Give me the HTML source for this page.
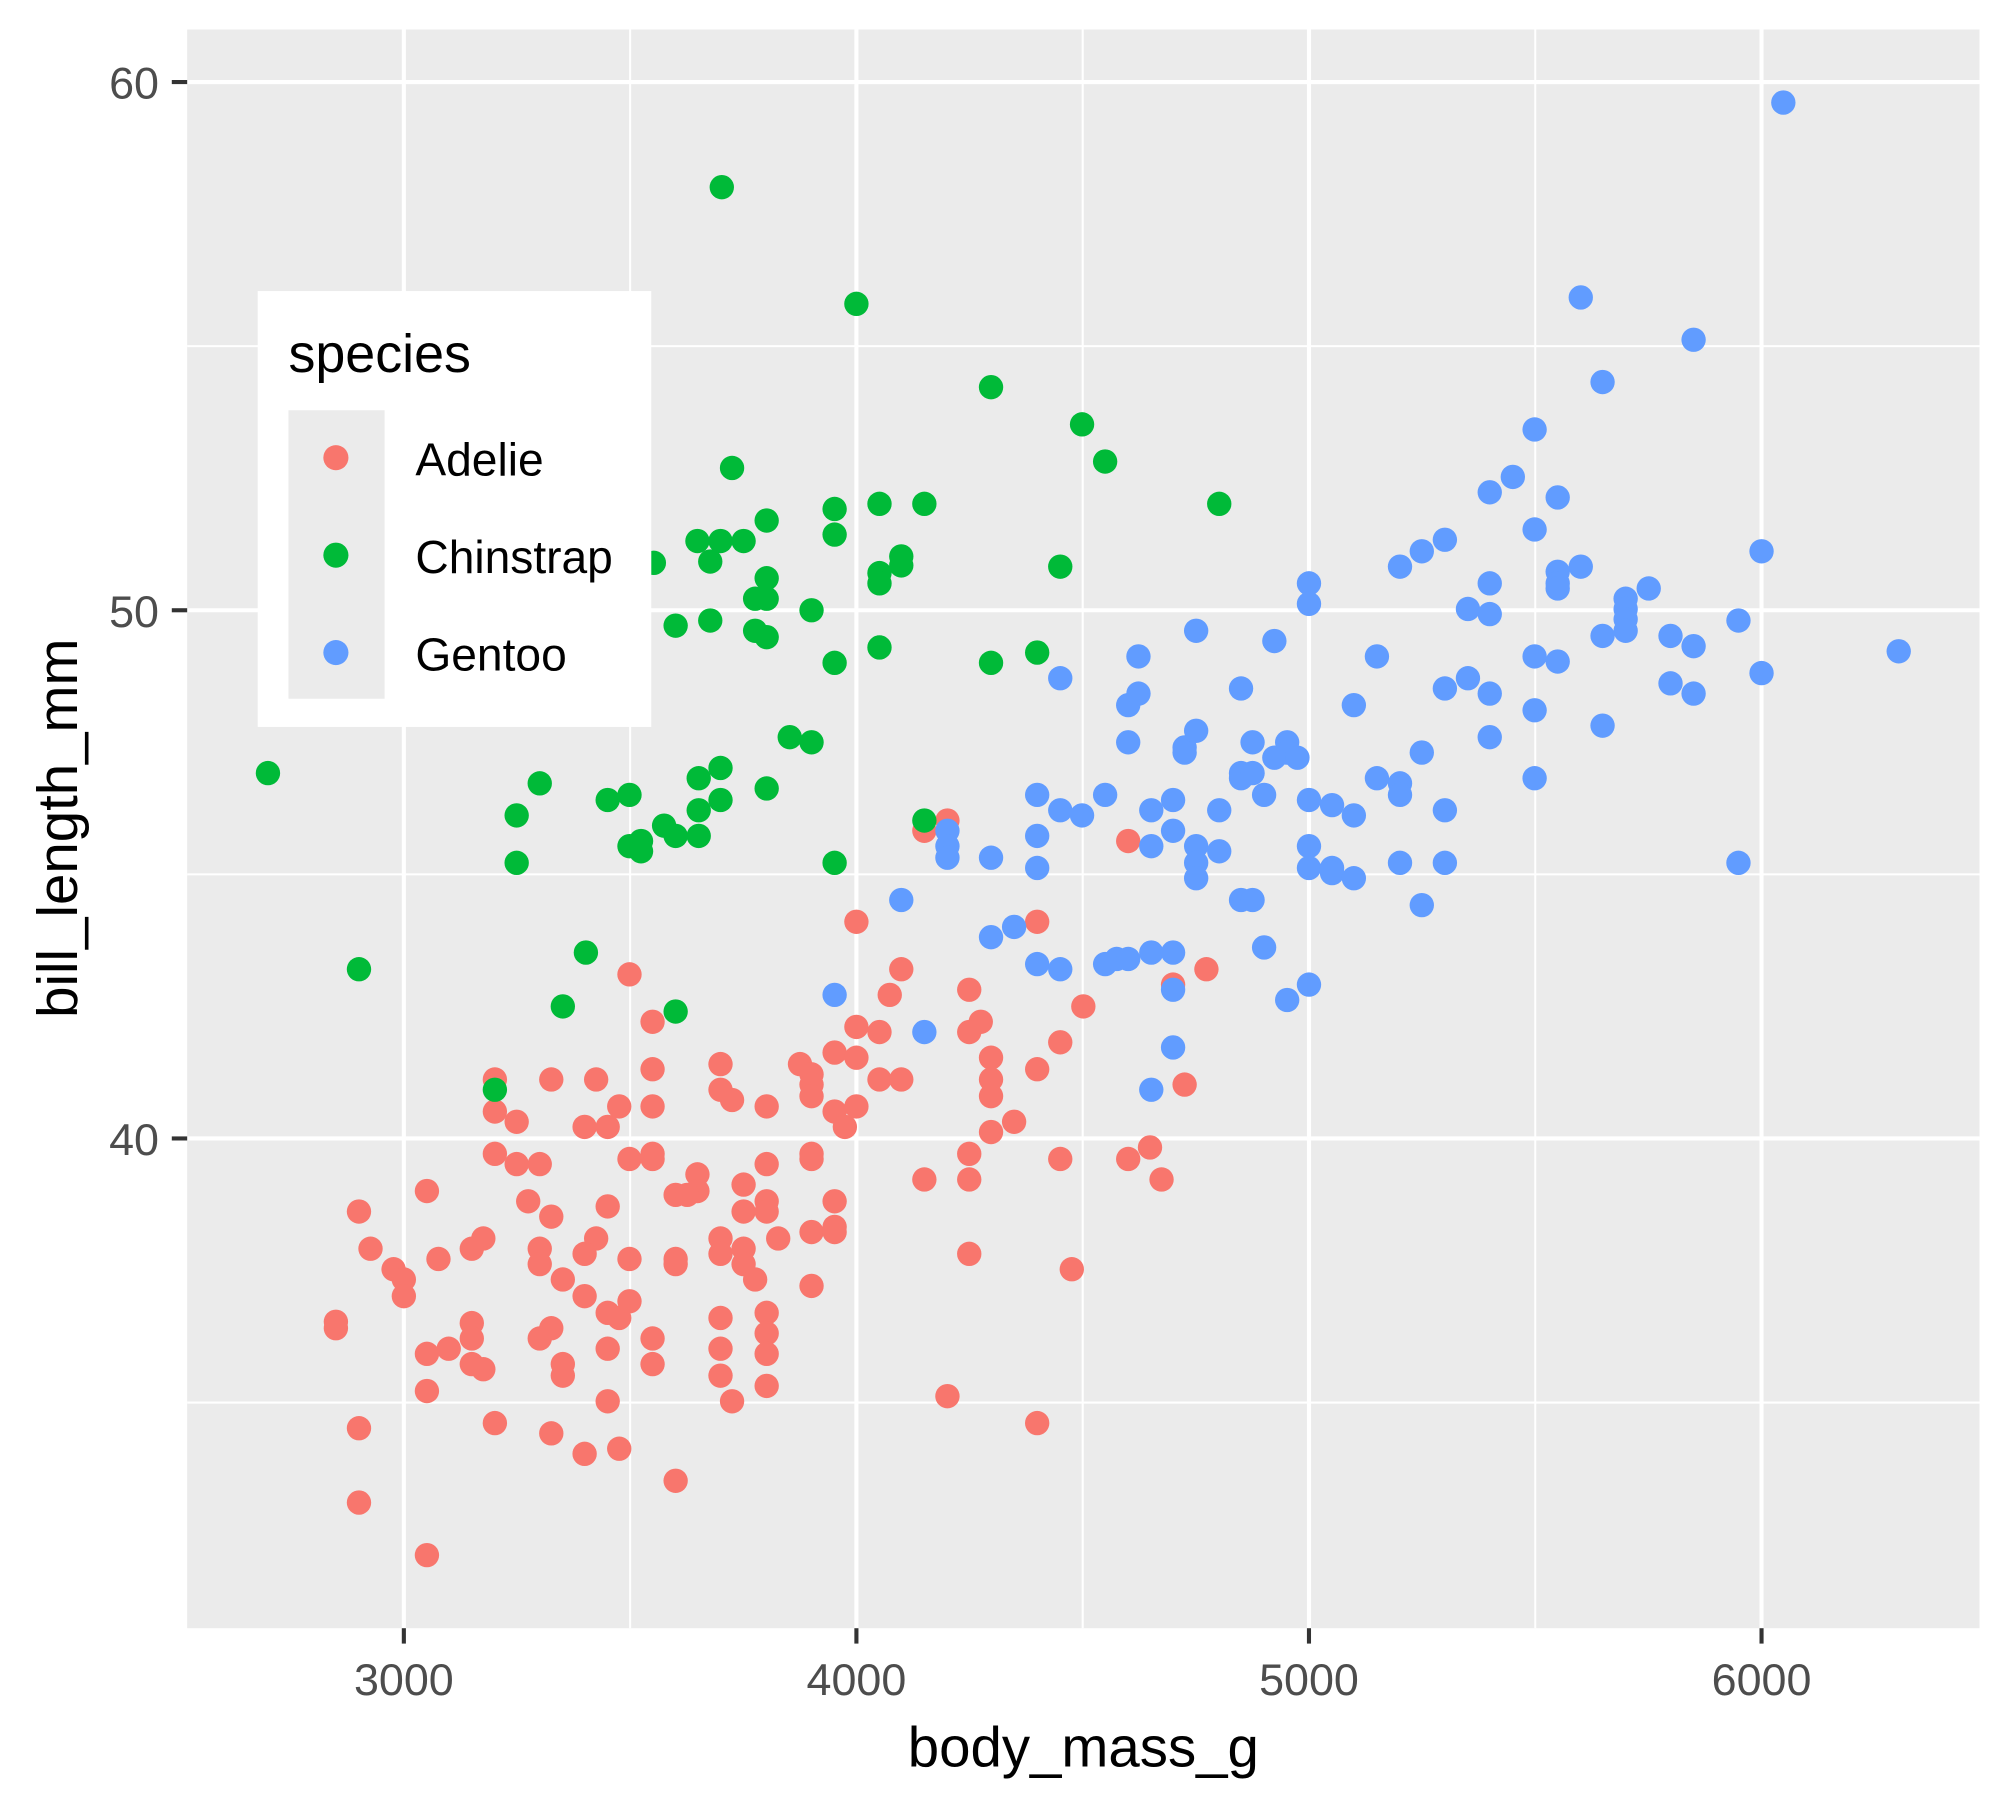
<!DOCTYPE html>
<html><head><meta charset="utf-8"><style>html,body{margin:0;padding:0;background:#fff}svg{display:block}</style></head><body>
<svg width="2000" height="1800" viewBox="0 0 1560 1404" xmlns="http://www.w3.org/2000/svg" font-family="Liberation Sans, sans-serif">
<rect x="0" y="0" width="1560" height="1404" fill="#fff"/>
<rect x="146" y="23" width="1398" height="1247" fill="#EBEBEB"/>
<g stroke="#fff" stroke-width="1.6">
<line x1="146" x2="1544" y1="270" y2="270"/><line x1="146" x2="1544" y1="682" y2="682"/><line x1="146" x2="1544" y1="1094" y2="1094"/>
<line y1="23" y2="1270" x1="491.5" x2="491.5"/><line y1="23" y2="1270" x1="844.5" x2="844.5"/><line y1="23" y2="1270" x1="1197.5" x2="1197.5"/>
</g>
<g stroke="#fff" stroke-width="3.2">
<line x1="146" x2="1544" y1="64" y2="64"/><line x1="146" x2="1544" y1="476" y2="476"/><line x1="146" x2="1544" y1="888" y2="888"/>
<line y1="23" y2="1270" x1="315" x2="315"/><line y1="23" y2="1270" x1="668" x2="668"/><line y1="23" y2="1270" x1="1021" x2="1021"/><line y1="23" y2="1270" x1="1374" x2="1374"/>
</g>
<g stroke="#333" stroke-width="3.2">
<line x1="134" x2="146" y1="64" y2="64"/><line x1="134" x2="146" y1="476" y2="476"/><line x1="134" x2="146" y1="888" y2="888"/>
<line y1="1270" y2="1282" x1="315" x2="315"/><line y1="1270" y2="1282" x1="668" x2="668"/><line y1="1270" y2="1282" x1="1021" x2="1021"/><line y1="1270" y2="1282" x1="1374" x2="1374"/>
</g>
<g fill="#4D4D4D" font-size="35">
<text x="124" y="77" text-anchor="end">60</text><text x="124" y="489" text-anchor="end">50</text><text x="124" y="901" text-anchor="end">40</text>
<text x="315" y="1322" text-anchor="middle">3000</text><text x="668" y="1322" text-anchor="middle">4000</text><text x="1021" y="1322" text-anchor="middle">5000</text><text x="1374" y="1322" text-anchor="middle">6000</text>
</g>
<text x="845" y="1378" text-anchor="middle" font-size="44" fill="#000">body_mass_g</text>
<text transform="translate(60,646) rotate(-90)" text-anchor="middle" font-size="44" fill="#000">bill_length_mm</text>
<g fill="#F8766D">
<circle cx="721" cy="648" r="9.5"/><circle cx="739" cy="640" r="9.5"/><circle cx="880" cy="656" r="9.5"/><circle cx="668" cy="719" r="9.5"/><circle cx="809" cy="719" r="9.5"/><circle cx="703" cy="756" r="9.5"/><circle cx="491" cy="760" r="9.5"/><circle cx="941" cy="756" r="9.5"/><circle cx="915" cy="768" r="9.5"/><circle cx="756" cy="772" r="9.5"/><circle cx="694" cy="776" r="9.5"/><circle cx="509" cy="797" r="9.5"/><circle cx="845" cy="785" r="9.5"/><circle cx="668" cy="801" r="9.5"/><circle cx="686" cy="805" r="9.5"/><circle cx="765" cy="797" r="9.5"/><circle cx="756" cy="805" r="9.5"/><circle cx="809" cy="834" r="9.5"/><circle cx="827" cy="813" r="9.5"/><circle cx="651" cy="821" r="9.5"/><circle cx="668" cy="825" r="9.5"/><circle cx="773" cy="825" r="9.5"/><circle cx="562" cy="830" r="9.5"/><circle cx="624" cy="830" r="9.5"/><circle cx="386" cy="842" r="9.5"/><circle cx="430" cy="842" r="9.5"/><circle cx="465" cy="842" r="9.5"/><circle cx="509" cy="834" r="9.5"/><circle cx="686" cy="842" r="9.5"/><circle cx="703" cy="842" r="9.5"/><circle cx="633" cy="838" r="9.5"/><circle cx="633" cy="846" r="9.5"/><circle cx="773" cy="842" r="9.5"/><circle cx="562" cy="850" r="9.5"/><circle cx="571" cy="858" r="9.5"/><circle cx="773" cy="855" r="9.5"/><circle cx="386" cy="867" r="9.5"/><circle cx="403" cy="875" r="9.5"/><circle cx="456" cy="879" r="9.5"/><circle cx="474" cy="879" r="9.5"/><circle cx="483" cy="863" r="9.5"/><circle cx="509" cy="863" r="9.5"/><circle cx="598" cy="863" r="9.5"/><circle cx="651" cy="867" r="9.5"/><circle cx="668" cy="863" r="9.5"/><circle cx="659" cy="879" r="9.5"/><circle cx="791" cy="875" r="9.5"/><circle cx="773" cy="883" r="9.5"/><circle cx="633" cy="855" r="9.5"/><circle cx="924" cy="846" r="9.5"/><circle cx="897" cy="895" r="9.5"/><circle cx="880" cy="904" r="9.5"/><circle cx="906" cy="920" r="9.5"/><circle cx="827" cy="904" r="9.5"/><circle cx="721" cy="920" r="9.5"/><circle cx="756" cy="920" r="9.5"/><circle cx="756" cy="900" r="9.5"/><circle cx="386" cy="900" r="9.5"/><circle cx="403" cy="908" r="9.5"/><circle cx="421" cy="908" r="9.5"/><circle cx="491" cy="904" r="9.5"/><circle cx="509" cy="904" r="9.5"/><circle cx="509" cy="900" r="9.5"/><circle cx="527" cy="932" r="9.5"/><circle cx="544" cy="916" r="9.5"/><circle cx="544" cy="929" r="9.5"/><circle cx="536" cy="932" r="9.5"/><circle cx="580" cy="924" r="9.5"/><circle cx="598" cy="908" r="9.5"/><circle cx="633" cy="900" r="9.5"/><circle cx="633" cy="904" r="9.5"/><circle cx="651" cy="937" r="9.5"/><circle cx="333" cy="929" r="9.5"/><circle cx="280" cy="945" r="9.5"/><circle cx="412" cy="937" r="9.5"/><circle cx="430" cy="949" r="9.5"/><circle cx="474" cy="941" r="9.5"/><circle cx="580" cy="945" r="9.5"/><circle cx="598" cy="937" r="9.5"/><circle cx="598" cy="945" r="9.5"/><circle cx="633" cy="961" r="9.5"/><circle cx="651" cy="961" r="9.5"/><circle cx="651" cy="957" r="9.5"/><circle cx="377" cy="966" r="9.5"/><circle cx="368" cy="974" r="9.5"/><circle cx="289" cy="974" r="9.5"/><circle cx="421" cy="974" r="9.5"/><circle cx="421" cy="986" r="9.5"/><circle cx="465" cy="966" r="9.5"/><circle cx="456" cy="978" r="9.5"/><circle cx="491" cy="982" r="9.5"/><circle cx="527" cy="982" r="9.5"/><circle cx="527" cy="986" r="9.5"/><circle cx="562" cy="966" r="9.5"/><circle cx="562" cy="978" r="9.5"/><circle cx="580" cy="974" r="9.5"/><circle cx="580" cy="986" r="9.5"/><circle cx="589" cy="998" r="9.5"/><circle cx="607" cy="966" r="9.5"/><circle cx="633" cy="1003" r="9.5"/><circle cx="307" cy="990" r="9.5"/><circle cx="315" cy="998" r="9.5"/><circle cx="342" cy="982" r="9.5"/><circle cx="315" cy="1011" r="9.5"/><circle cx="439" cy="998" r="9.5"/><circle cx="456" cy="1011" r="9.5"/><circle cx="474" cy="1024" r="9.5"/><circle cx="483" cy="1028" r="9.5"/><circle cx="491" cy="1015" r="9.5"/><circle cx="509" cy="1044" r="9.5"/><circle cx="509" cy="1064" r="9.5"/><circle cx="562" cy="1028" r="9.5"/><circle cx="598" cy="1024" r="9.5"/><circle cx="598" cy="1040" r="9.5"/><circle cx="562" cy="1052" r="9.5"/><circle cx="598" cy="1056" r="9.5"/><circle cx="430" cy="1036" r="9.5"/><circle cx="421" cy="1044" r="9.5"/><circle cx="368" cy="1032" r="9.5"/><circle cx="368" cy="1044" r="9.5"/><circle cx="262" cy="1031" r="9.5"/><circle cx="262" cy="1036" r="9.5"/><circle cx="333" cy="1056" r="9.5"/><circle cx="350" cy="1052" r="9.5"/><circle cx="368" cy="1064" r="9.5"/><circle cx="377" cy="1068" r="9.5"/><circle cx="439" cy="1064" r="9.5"/><circle cx="439" cy="1073" r="9.5"/><circle cx="474" cy="1052" r="9.5"/><circle cx="562" cy="1073" r="9.5"/><circle cx="598" cy="1081" r="9.5"/><circle cx="571" cy="1093" r="9.5"/><circle cx="333" cy="1085" r="9.5"/><circle cx="474" cy="1093" r="9.5"/><circle cx="386" cy="1110" r="9.5"/><circle cx="280" cy="1114" r="9.5"/><circle cx="430" cy="1118" r="9.5"/><circle cx="456" cy="1134" r="9.5"/><circle cx="483" cy="1130" r="9.5"/><circle cx="527" cy="1155" r="9.5"/><circle cx="739" cy="1089" r="9.5"/><circle cx="809" cy="1110" r="9.5"/><circle cx="756" cy="978" r="9.5"/><circle cx="836" cy="990" r="9.5"/><circle cx="280" cy="1172" r="9.5"/><circle cx="333" cy="1213" r="9.5"/>
</g>
<g fill="#00BA38">
<circle cx="563" cy="146" r="9.5"/><circle cx="668" cy="237" r="9.5"/><circle cx="773" cy="302" r="9.5"/><circle cx="844" cy="331" r="9.5"/><circle cx="862" cy="360" r="9.5"/><circle cx="571" cy="365" r="9.5"/><circle cx="951" cy="393" r="9.5"/><circle cx="651" cy="397" r="9.5"/><circle cx="686" cy="393" r="9.5"/><circle cx="721" cy="393" r="9.5"/><circle cx="598" cy="406" r="9.5"/><circle cx="544" cy="422" r="9.5"/><circle cx="562" cy="422" r="9.5"/><circle cx="580" cy="422" r="9.5"/><circle cx="651" cy="417" r="9.5"/><circle cx="554" cy="438" r="9.5"/><circle cx="510" cy="439" r="9.5"/><circle cx="703" cy="434" r="9.5"/><circle cx="686" cy="447" r="9.5"/><circle cx="703" cy="441" r="9.5"/><circle cx="686" cy="455" r="9.5"/><circle cx="827" cy="442" r="9.5"/><circle cx="598" cy="451" r="9.5"/><circle cx="589" cy="467" r="9.5"/><circle cx="598" cy="467" r="9.5"/><circle cx="633" cy="476" r="9.5"/><circle cx="527" cy="488" r="9.5"/><circle cx="554" cy="484" r="9.5"/><circle cx="589" cy="492" r="9.5"/><circle cx="598" cy="497" r="9.5"/><circle cx="686" cy="505" r="9.5"/><circle cx="651" cy="517" r="9.5"/><circle cx="773" cy="517" r="9.5"/><circle cx="809" cy="509" r="9.5"/><circle cx="616" cy="575" r="9.5"/><circle cx="633" cy="579" r="9.5"/><circle cx="209" cy="603" r="9.5"/><circle cx="421" cy="611" r="9.5"/><circle cx="545" cy="607" r="9.5"/><circle cx="562" cy="599" r="9.5"/><circle cx="598" cy="615" r="9.5"/><circle cx="562" cy="624" r="9.5"/><circle cx="474" cy="624" r="9.5"/><circle cx="491" cy="620" r="9.5"/><circle cx="545" cy="632" r="9.5"/><circle cx="403" cy="636" r="9.5"/><circle cx="518" cy="644" r="9.5"/><circle cx="527" cy="652" r="9.5"/><circle cx="545" cy="652" r="9.5"/><circle cx="491" cy="660" r="9.5"/><circle cx="500" cy="656" r="9.5"/><circle cx="500" cy="664" r="9.5"/><circle cx="403" cy="673" r="9.5"/><circle cx="651" cy="673" r="9.5"/><circle cx="721" cy="640" r="9.5"/><circle cx="457" cy="743" r="9.5"/><circle cx="280" cy="756" r="9.5"/><circle cx="439" cy="785" r="9.5"/><circle cx="527" cy="789" r="9.5"/><circle cx="386" cy="850" r="9.5"/>
</g>
<g fill="#619CFF">
<circle cx="1391" cy="80" r="9.5"/><circle cx="1233" cy="232" r="9.5"/><circle cx="1321" cy="265" r="9.5"/><circle cx="1250" cy="298" r="9.5"/><circle cx="1197" cy="335" r="9.5"/><circle cx="1180" cy="372" r="9.5"/><circle cx="1162" cy="384" r="9.5"/><circle cx="1215" cy="388" r="9.5"/><circle cx="1197" cy="413" r="9.5"/><circle cx="1127" cy="421" r="9.5"/><circle cx="1109" cy="430" r="9.5"/><circle cx="1092" cy="442" r="9.5"/><circle cx="1374" cy="430" r="9.5"/><circle cx="1233" cy="442" r="9.5"/><circle cx="1215" cy="446" r="9.5"/><circle cx="1215" cy="455" r="9.5"/><circle cx="1215" cy="459" r="9.5"/><circle cx="1162" cy="455" r="9.5"/><circle cx="1286" cy="459" r="9.5"/><circle cx="1021" cy="455" r="9.5"/><circle cx="1021" cy="471" r="9.5"/><circle cx="1145" cy="475" r="9.5"/><circle cx="1162" cy="479" r="9.5"/><circle cx="1268" cy="467" r="9.5"/><circle cx="1268" cy="475" r="9.5"/><circle cx="1268" cy="483" r="9.5"/><circle cx="1268" cy="492" r="9.5"/><circle cx="1250" cy="496" r="9.5"/><circle cx="1303" cy="496" r="9.5"/><circle cx="1356" cy="484" r="9.5"/><circle cx="933" cy="492" r="9.5"/><circle cx="994" cy="500" r="9.5"/><circle cx="1481" cy="508" r="9.5"/><circle cx="1321" cy="504" r="9.5"/><circle cx="1197" cy="512" r="9.5"/><circle cx="1215" cy="516" r="9.5"/><circle cx="1074" cy="512" r="9.5"/><circle cx="888" cy="512" r="9.5"/><circle cx="827" cy="529" r="9.5"/><circle cx="1303" cy="533" r="9.5"/><circle cx="1145" cy="529" r="9.5"/><circle cx="1127" cy="537" r="9.5"/><circle cx="1162" cy="541" r="9.5"/><circle cx="1321" cy="541" r="9.5"/><circle cx="1374" cy="525" r="9.5"/><circle cx="968" cy="537" r="9.5"/><circle cx="880" cy="550" r="9.5"/><circle cx="888" cy="541" r="9.5"/><circle cx="1056" cy="550" r="9.5"/><circle cx="1197" cy="554" r="9.5"/><circle cx="1250" cy="566" r="9.5"/><circle cx="880" cy="579" r="9.5"/><circle cx="933" cy="570" r="9.5"/><circle cx="924" cy="583" r="9.5"/><circle cx="924" cy="587" r="9.5"/><circle cx="977" cy="579" r="9.5"/><circle cx="1004" cy="579" r="9.5"/><circle cx="1004" cy="587" r="9.5"/><circle cx="994" cy="591" r="9.5"/><circle cx="1012" cy="591" r="9.5"/><circle cx="1109" cy="587" r="9.5"/><circle cx="1162" cy="575" r="9.5"/><circle cx="968" cy="603" r="9.5"/><circle cx="968" cy="607" r="9.5"/><circle cx="977" cy="603" r="9.5"/><circle cx="986" cy="620" r="9.5"/><circle cx="1074" cy="607" r="9.5"/><circle cx="1092" cy="611" r="9.5"/><circle cx="1092" cy="620" r="9.5"/><circle cx="1197" cy="607" r="9.5"/><circle cx="862" cy="620" r="9.5"/><circle cx="809" cy="620" r="9.5"/><circle cx="915" cy="624" r="9.5"/><circle cx="898" cy="632" r="9.5"/><circle cx="827" cy="632" r="9.5"/><circle cx="844" cy="636" r="9.5"/><circle cx="1021" cy="624" r="9.5"/><circle cx="1039" cy="628" r="9.5"/><circle cx="1056" cy="636" r="9.5"/><circle cx="1127" cy="632" r="9.5"/><circle cx="951" cy="632" r="9.5"/><circle cx="915" cy="648" r="9.5"/><circle cx="809" cy="652" r="9.5"/><circle cx="739" cy="648" r="9.5"/><circle cx="739" cy="660" r="9.5"/><circle cx="739" cy="669" r="9.5"/><circle cx="773" cy="669" r="9.5"/><circle cx="898" cy="660" r="9.5"/><circle cx="933" cy="660" r="9.5"/><circle cx="933" cy="673" r="9.5"/><circle cx="933" cy="685" r="9.5"/><circle cx="951" cy="664" r="9.5"/><circle cx="1021" cy="660" r="9.5"/><circle cx="1021" cy="677" r="9.5"/><circle cx="1039" cy="677" r="9.5"/><circle cx="1039" cy="681" r="9.5"/><circle cx="1056" cy="685" r="9.5"/><circle cx="1092" cy="673" r="9.5"/><circle cx="1127" cy="673" r="9.5"/><circle cx="1356" cy="673" r="9.5"/><circle cx="809" cy="677" r="9.5"/><circle cx="968" cy="702" r="9.5"/><circle cx="977" cy="702" r="9.5"/><circle cx="1109" cy="706" r="9.5"/><circle cx="703" cy="702" r="9.5"/><circle cx="791" cy="723" r="9.5"/><circle cx="773" cy="731" r="9.5"/><circle cx="986" cy="739" r="9.5"/><circle cx="862" cy="752" r="9.5"/><circle cx="871" cy="748" r="9.5"/><circle cx="880" cy="748" r="9.5"/><circle cx="898" cy="743" r="9.5"/><circle cx="915" cy="743" r="9.5"/><circle cx="809" cy="752" r="9.5"/><circle cx="827" cy="756" r="9.5"/><circle cx="915" cy="772" r="9.5"/><circle cx="1004" cy="780" r="9.5"/><circle cx="1021" cy="768" r="9.5"/><circle cx="651" cy="776" r="9.5"/><circle cx="721" cy="805" r="9.5"/><circle cx="915" cy="817" r="9.5"/><circle cx="898" cy="850" r="9.5"/>
</g>
<rect x="201" y="227" width="307" height="340" fill="#fff"/>
<text x="225" y="290" font-size="42" fill="#000">species</text>
<rect x="225" y="320" width="75" height="225" fill="#EBEBEB"/>
<circle cx="262" cy="357" r="9.8" fill="#F8766D"/>
<circle cx="262" cy="433" r="9.8" fill="#00BA38"/>
<circle cx="262" cy="509" r="9.8" fill="#619CFF"/>
<g font-size="36" fill="#000">
<text x="324" y="371">Adelie</text><text x="324" y="447">Chinstrap</text><text x="324" y="523">Gentoo</text>
</g>
</svg>
</body></html>
